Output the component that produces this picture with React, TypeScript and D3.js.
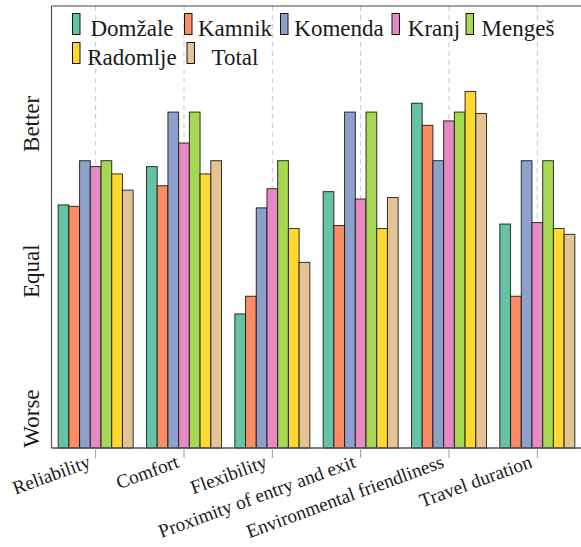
import React from "react";
import * as d3 from "d3";

const categories = [
  "Reliability",
  "Comfort",
  "Flexibility",
  "Proximity of entry and exit",
  "Environmental friendliness",
  "Travel duration",
];
const seriesNames = ["Domžale", "Kamnik", "Komenda", "Kranj", "Mengeš", "Radomlje", "Total"];
const domzale = [2.45, 2.71, 1.71, 2.54, 3.14, 2.32];
const kamnik = [2.44, 2.58, 1.83, 2.31, 2.99, 1.83];
const komenda = [2.75, 3.08, 2.43, 3.08, 2.75, 2.75];
const kranj = [2.71, 2.87, 2.56, 2.49, 3.02, 2.33];
const menges = [2.75, 3.08, 2.75, 3.08, 3.08, 2.75];
const radomlje = [2.66, 2.66, 2.29, 2.29, 3.22, 2.29];
const total = [2.55, 2.75, 2.06, 2.5, 3.07, 2.25];
const seriesValues = [domzale, kamnik, komenda, kranj, menges, radomlje, total];
const colors = ["#66c2a5", "#fc8d62", "#8da0cb", "#e78ac3", "#a6d854", "#ffd92f", "#e5c494"];
const yTickValues = [1, 2, 3];
const yTickLabels = ["Worse", "Equal", "Better"];

const W = 581;
const H = 547;
const left = 51.5;
const right = 581.5;
const top = 6;
const bottom = 448;
const FONT = "Liberation Serif, DejaVu Serif";

// legend layout (5 columns, 2 rows)
const legendColX = [72.5, 184.5, 280.5, 392, 466];
const legendTextCenter = [132, 235, 339, 434, 518];
const legendRowY = [13.5, 42.5];

export default function App() {
  const x0 = d3.scaleBand<string>().domain(categories).range([left, right]).padding(0);
  const groupW = 75;
  const x1 = d3.scaleBand<string>().domain(seriesNames).range([0, groupW]).padding(0);
  const y = d3.scaleLinear().domain([0.8, 3.8]).range([bottom, top]);

  const center = (c: string) => (x0(c) as number) + x0.bandwidth() / 2;
  const txt = { fontFamily: FONT };

  return (
    <svg
      width={W}
      height={H}
      style={{ position: "absolute", left: 0, top: 0, background: "#fff", fontFamily: FONT }}
    >
      {categories.map((c) => (
        <line
          key={"g" + c}
          x1={center(c)}
          x2={center(c)}
          y1={top}
          y2={bottom}
          stroke="#c8c8c8"
          strokeWidth={1}
          strokeDasharray="5,4"
        />
      ))}
      {categories.map((c, ci) =>
        seriesNames.map((s, si) => {
          const v = seriesValues[si][ci];
          const bx = center(c) - groupW / 2 + (x1(s) as number);
          return (
            <rect
              key={c + s}
              x={bx}
              y={y(v)}
              width={x1.bandwidth()}
              height={bottom - y(v)}
              fill={colors[si]}
              stroke="#111"
              strokeOpacity={0.85}
              strokeWidth={1}
            />
          );
        })
      )}
      <line x1={left} x2={right} y1={top} y2={top} stroke="#444" strokeWidth={1.2} />
      <line x1={left} x2={left} y1={top} y2={bottom} stroke="#555" strokeWidth={1.2} />
      <line x1={left} x2={right} y1={bottom} y2={bottom} stroke="#555" strokeWidth={1.5} />
      {categories.map((c) => (
        <g key={"t" + c}>
          <line x1={center(c)} x2={center(c)} y1={bottom} y2={bottom + 10} stroke="#999" strokeWidth={1} />
          <text
            transform={`translate(${center(c) - 4},${467}) rotate(-20)`}
            textAnchor="end"
            fontSize={19.2}
            fill="#1a1a1a"
            style={txt}
          >
            {c}
          </text>
        </g>
      ))}
      {yTickValues.map((v, i) => (
        <text
          key={"y" + v}
          transform={`translate(38.5,${y(v)}) rotate(-90)`}
          textAnchor="middle"
          fontSize={23}
          fill="#1a1a1a"
          style={txt}
        >
          {yTickLabels[i]}
        </text>
      ))}
      {seriesNames.map((s, i) => {
        const col = i % 5;
        const row = Math.floor(i / 5);
        const sx = legendColX[col] + (i === 6 ? 2.5 : 0);
        const sy = legendRowY[row];
        return (
          <g key={"l" + s}>
            <rect x={sx} y={sy} width={7.5} height={21} fill={colors[i]} stroke="#111" strokeWidth={1} />
            <text
              x={legendTextCenter[col]}
              y={sy + 22.5}
              textAnchor="middle"
              fontSize={23}
              fill="#1a1a1a"
              style={txt}
            >
              {s}
            </text>
          </g>
        );
      })}
    </svg>
  );
}
